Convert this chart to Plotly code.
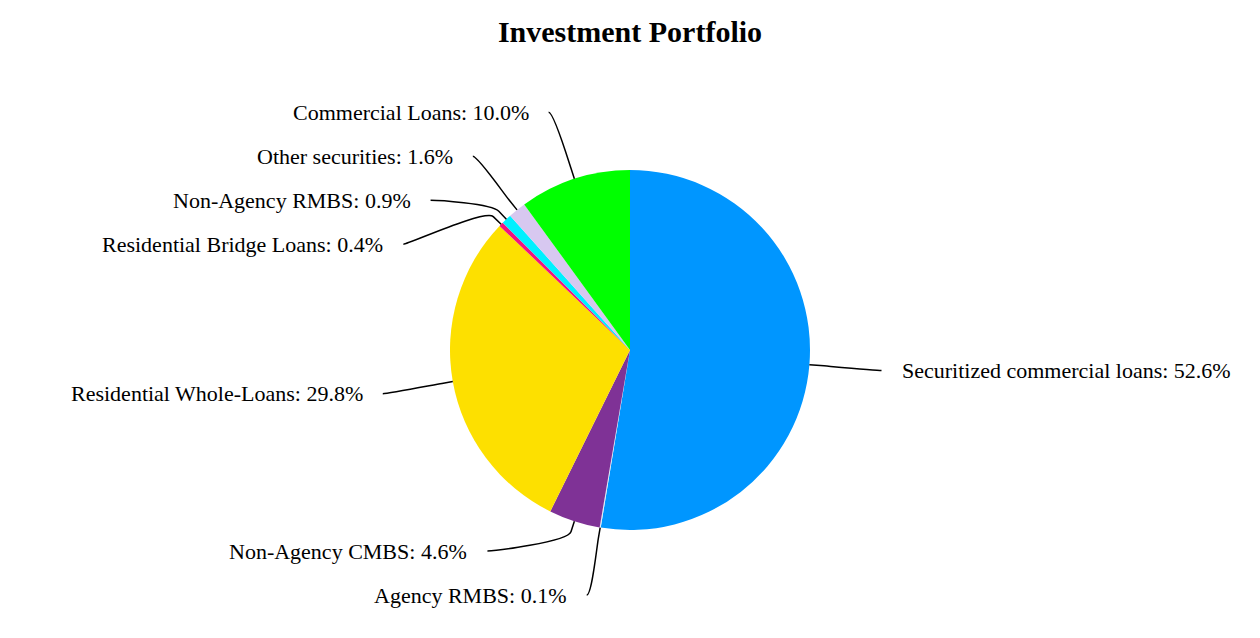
import math
import plotly.graph_objects as go

# ---- data ----
labels = ["Securitized commercial loans", "Agency RMBS", "Non-Agency CMBS",
          "Residential Whole-Loans", "Residential Bridge Loans", "Non-Agency RMBS",
          "Other securities", "Commercial Loans"]
values = [52.6, 0.1, 4.6, 29.8, 0.4, 0.9, 1.6, 10.0]
colors = ["#0096FF", "#DCEBF5", "#7F3296", "#FDE000", "#F0147F", "#00F0FF",
          "#D7C8F0", "#00FF00"]
title_text = "Investment Portfolio"

# ---- layout parameters ----
W, H = 1260, 638
CX, CY, R = 630, 350, 180
LABEL_RY = 250       # radius used for natural label y
LABEL_RX = 267       # radius used for label x
Y_EXT_TOP = 12
Y_EXT_BOTTOM = 16
PAD = 5
GAP = 18
SPACING = 44
YMIN, YMAX = 60, 595
CONN_OFF = 11
FONT = "Liberation Serif, Times New Roman, serif"

fig = go.Figure(go.Pie(
    labels=labels, values=values, sort=False, direction="clockwise", rotation=0,
    marker=dict(colors=colors, line=dict(width=0)),
    textinfo="none", hoverinfo="label+percent",
    domain=dict(x=[(CX - R) / W, (CX + R) / W],
                y=[(H - CY - R) / H, (H - CY + R) / H]),
))

total = sum(values)
cum = 0.0
items = []
for lab, v in zip(labels, values):
    th = 2 * math.pi * (cum + v / 2) / total
    cum += v
    side = "right" if math.sin(th) >= 0 else "left"
    items.append(dict(label=lab, value=v, th=th, side=side,
                      y=CY - LABEL_RY * math.cos(th)))

for side in ("left", "right"):
    grp = sorted([it for it in items if it["side"] == side], key=lambda d: d["y"])
    for i, it in enumerate(grp):
        y = max(it["y"], YMIN)
        if i > 0:
            y = max(y, grp[i - 1]["y"] + SPACING)
        it["y"] = y
    for i in range(len(grp) - 1, -1, -1):
        y = min(grp[i]["y"], YMAX)
        if i < len(grp) - 1:
            y = min(y, grp[i + 1]["y"] - SPACING)
        grp[i]["y"] = y

def px(x):
    return x / W

def py(y):
    return (H - y) / H

annotations = []
shapes = []
for it in items:
    dy = it["y"] - CY
    ext = Y_EXT_BOTTOM if dy > 0 else Y_EXT_TOP
    d = min(abs(dy) + ext, LABEL_RX)
    dx = math.sqrt(LABEL_RX ** 2 - d ** 2) + PAD
    left = it["side"] == "left"
    xe = CX - dx if left else CX + dx
    annotations.append(dict(
        x=px(xe), y=py(it["y"]), xref="paper", yref="paper",
        text=f"{it['label']}: {it['value']:.1f}%", showarrow=False,
        xanchor="right" if left else "left", yanchor="middle",
        font=dict(family=FONT, size=22, color="black"),
    ))
    lx = xe + GAP if left else xe - GAP
    ly = it["y"]
    th = it["th"]
    tx, ty = CX + R * math.sin(th), CY - R * math.cos(th)
    bx, by = CX + (R + CONN_OFF) * math.sin(th), CY - (R + CONN_OFF) * math.cos(th)
    c1x = lx + (5 if left else -5)
    path = (f"M {px(lx)},{py(ly)} C {px(c1x)},{py(ly)} {px(2*bx-tx)},{py(2*by-ty)} "
            f"{px(bx)},{py(by)} L {px(tx)},{py(ty)}")
    shapes.append(dict(type="path", xref="paper", yref="paper", path=path,
                       line=dict(color="black", width=1.5)))

fig.update_layout(
    width=W, height=H, autosize=False,
    margin=dict(l=0, r=0, t=0, b=0),
    paper_bgcolor="white", plot_bgcolor="white",
    showlegend=False,
    title=dict(text=f"<b>{title_text}</b>", x=0.5, xanchor="center",
               y=1 - 31 / H, yanchor="middle", xref="container", yref="container",
               font=dict(family=FONT, size=30, color="black")),
    annotations=annotations, shapes=shapes,
)

fig.write_html("out.html", config={"displayModeBar": False},
               post_script="document.body.style.margin='0px';")
